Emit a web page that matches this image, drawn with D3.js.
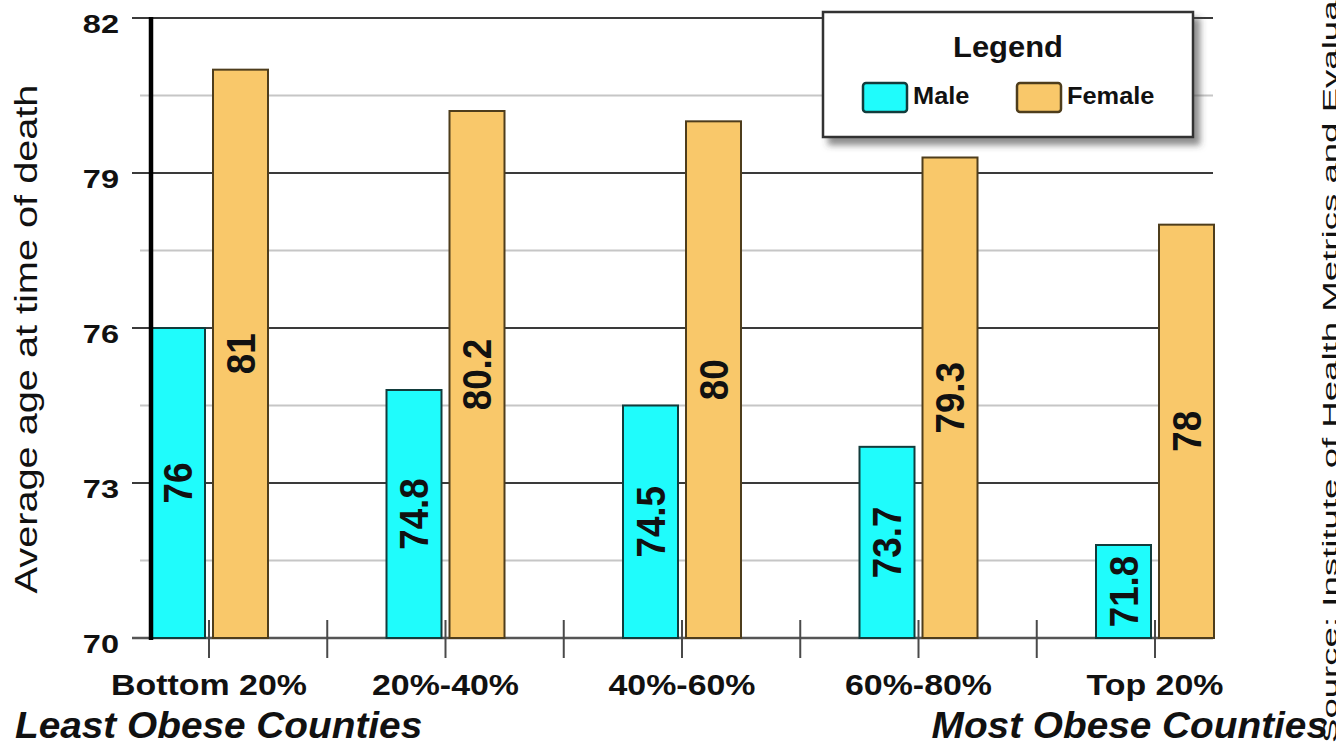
<!DOCTYPE html>
<html>
<head>
<meta charset="utf-8">
<script src="https://cdn.jsdelivr.net/npm/d3@7"></script>
<style>
  html, body { margin: 0; padding: 0; background: #fff; }
  svg { display: block; }
  text { font-family: "Liberation Sans", Arial, Helvetica, sans-serif; fill: #111; }
</style>
</head>
<body>
<svg id="chart" width="1336" height="746"></svg>
<script>
const categories = ["Bottom 20%", "20%-40%", "40%-60%", "60%-80%", "Top 20%"];
const seriesNames = ["Male", "Female"];
const maleValues = [76, 74.8, 74.5, 73.7, 71.8];
const femaleValues = [81, 80.2, 80, 79.3, 78];
const yTicks = [70, 73, 76, 79, 82];
const yMinorTicks = [71.5, 74.5, 77.5, 80.5];
const yTitle = "Average age at time of death";
const leftNote = "Least Obese Counties";
const rightNote = "Most Obese Counties";
const sourceText = "Source: Institute of Health Metrics and Evaluation";

const colors = { Male: "#1ffcfc", Female: "#f9c86a" };
const strokes = { Male: "#123c3c", Female: "#4e3d1c" };

const svg = d3.select("#chart");
const W = 1336, H = 746;
svg.append("rect").attr("width", W).attr("height", H).attr("fill", "#fff");

const y = d3.scaleLinear().domain([70, 82]).range([638, 18]);
const x = d3.scaleBand().domain(categories).range([90.75, 1273.25]);
const bw = x.bandwidth();
const xs = d3.scaleBand().domain(seriesNames).range([bw / 2 - 59, bw / 2 + 59]).paddingInner(0.127);

const plotLeft = 151, plotRight = 1213;

function stretch(sel, f) {
  sel.each(function () {
    const L = this.getComputedTextLength();
    d3.select(this).attr("textLength", L * f).attr("lengthAdjust", "spacingAndGlyphs");
  });
}

// minor gridlines
svg.append("g").selectAll("line").data(yMinorTicks).join("line")
  .attr("x1", 140).attr("x2", plotRight)
  .attr("y1", d => y(d)).attr("y2", d => y(d))
  .attr("stroke", "#c6c6c6").attr("stroke-width", 2);

// major gridlines
svg.append("g").selectAll("line").data(yTicks.filter(d => d !== 70)).join("line")
  .attr("x1", 132).attr("x2", plotRight)
  .attr("y1", d => y(d)).attr("y2", d => y(d))
  .attr("stroke", "#3a3a3a").attr("stroke-width", 2);

// baseline
svg.append("line").attr("x1", 132).attr("x2", plotRight)
  .attr("y1", y(70)).attr("y2", y(70))
  .attr("stroke", "#555").attr("stroke-width", 2.5);

// category ticks: group centers + interior boundaries
const tickXs = [];
categories.forEach((c, i) => {
  tickXs.push(x(c) + bw / 2);
  if (i > 0) tickXs.push(x(c));
});
svg.append("g").selectAll("line").data(tickXs).join("line")
  .attr("x1", d => d).attr("x2", d => d)
  .attr("y1", y(70) - 18).attr("y2", y(70) + 20)
  .attr("stroke", "#4a4a4a").attr("stroke-width", 2);

// bars
const barData = [];
categories.forEach((c, i) => {
  barData.push({ cat: c, s: "Male", v: maleValues[i] });
  barData.push({ cat: c, s: "Female", v: femaleValues[i] });
});
const bars = svg.append("g");
bars.selectAll("rect").data(barData).join("rect")
  .attr("x", d => x(d.cat) + xs(d.s))
  .attr("width", xs.bandwidth())
  .attr("y", d => y(d.v))
  .attr("height", d => y(70) - y(d.v))
  .attr("fill", d => colors[d.s])
  .attr("stroke", d => strokes[d.s])
  .attr("stroke-width", 2);

// bar labels
const lbl = svg.append("g").selectAll("text").data(barData).join("text")
  .attr("transform", d => `translate(${x(d.cat) + xs(d.s) + xs.bandwidth() / 2},${(y(d.v) + y(70)) / 2}) rotate(-90)`)
  .attr("text-anchor", "middle")
  .attr("dy", "0.36em")
  .attr("font-size", 40)
  .attr("font-weight", "bold")
  .text(d => d.v);
stretch(lbl, 0.92);

// vertical axis line
svg.append("line").attr("x1", plotLeft).attr("x2", plotLeft)
  .attr("y1", y(82) - 1).attr("y2", y(70) + 2)
  .attr("stroke", "#000").attr("stroke-width", 4.5);

// y tick labels
const yl = svg.append("g").selectAll("text").data(yTicks).join("text")
  .attr("x", 119).attr("y", d => y(d) + 14.5)
  .attr("text-anchor", "end")
  .attr("font-size", 26).attr("font-weight", "bold")
  .text(d => d);
stretch(yl, 1.25);

// category labels
const cl = svg.append("g").selectAll("text").data(categories).join("text")
  .attr("x", d => x(d) + bw / 2).attr("y", 695)
  .attr("text-anchor", "middle")
  .attr("font-size", 30).attr("font-weight", "bold")
  .text(d => d);
stretch(cl, 1.13);

// y title
const yt = svg.append("text")
  .attr("transform", "translate(37,339) rotate(-90)")
  .attr("text-anchor", "middle")
  .attr("font-size", 32)
  .text(yTitle);
stretch(yt, 1.24);

// bottom notes
const ln = svg.append("text").attr("x", 15).attr("y", 738)
  .attr("font-size", 36).attr("font-weight", "bold").attr("font-style", "italic")
  .text(leftNote);
stretch(ln, 1.077);
const rn = svg.append("text").attr("x", 1328).attr("y", 738)
  .attr("text-anchor", "end")
  .attr("font-size", 36).attr("font-weight", "bold").attr("font-style", "italic")
  .text(rightNote);
stretch(rn, 1.077);

// source
const src = svg.append("text")
  .attr("transform", "translate(1337,743) rotate(-90)")
  .attr("font-size", 20)
  .text(sourceText);
stretch(src, 1.83);

// legend
const defs = svg.append("defs");
const f = defs.append("filter").attr("id", "shadow").attr("x", "-10%").attr("y", "-10%").attr("width", "130%").attr("height", "140%");
f.append("feDropShadow").attr("dx", 6).attr("dy", 7).attr("stdDeviation", 3)
  .attr("flood-color", "#444").attr("flood-opacity", 0.6);

const lg = svg.append("g");
lg.append("rect").attr("x", 823).attr("y", 12).attr("width", 370).attr("height", 125)
  .attr("fill", "#fff").attr("stroke", "#333").attr("stroke-width", 2.5)
  .attr("filter", "url(#shadow)");
const lt = lg.append("text").attr("x", 1008).attr("y", 57)
  .attr("text-anchor", "middle").attr("font-size", 30).attr("font-weight", "bold")
  .text("Legend");
stretch(lt, 1.03);
const legendX = { Male: 863, Female: 1017 };
lg.selectAll("rect.sw").data(seriesNames).join("rect").attr("class", "sw")
  .attr("x", d => legendX[d]).attr("y", 83).attr("width", 44).attr("height", 29)
  .attr("rx", 3)
  .attr("fill", d => colors[d]).attr("stroke", d => strokes[d]).attr("stroke-width", 2.5);
const li = lg.selectAll("text.li").data(seriesNames).join("text").attr("class", "li")
  .attr("x", d => legendX[d] + 50).attr("y", 104)
  .attr("font-size", 23.5).attr("font-weight", "bold")
  .text(d => d);
stretch(li, 1.08);
</script>
</body>
</html>
